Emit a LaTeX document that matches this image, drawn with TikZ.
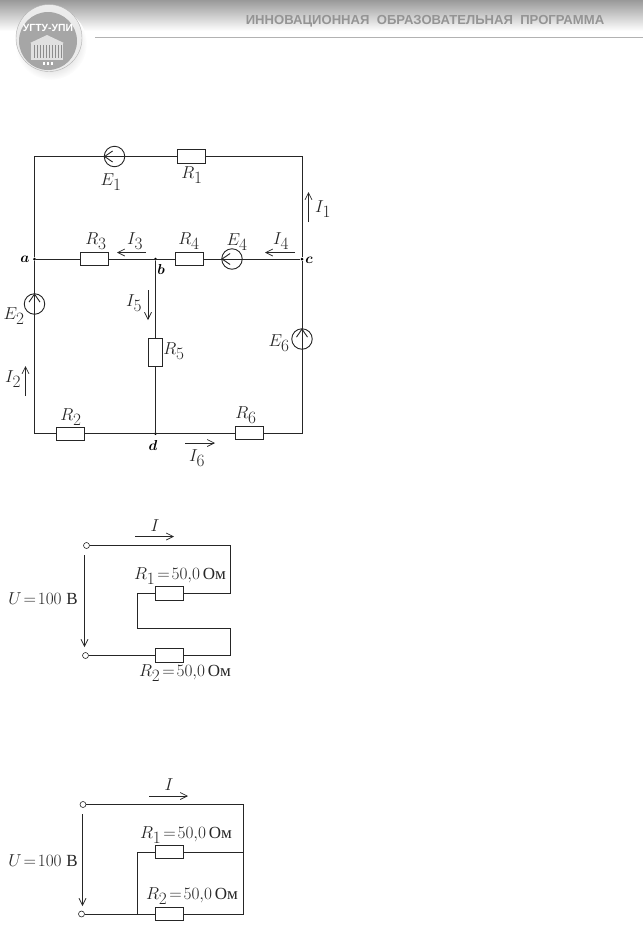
\documentclass[tikz,border=0pt]{standalone}
\usepackage{amsmath, amssymb}
\usepackage{fontspec}
\newfontfamily\headfont{Liberation Sans}
\newfontfamily\ohmfont{Liberation Serif}
\usetikzlibrary{arrows.meta}

\tikzset{
	>={Straight Barb[length=7pt,width=7pt]},
	wire/.style = {draw=black!85, line width=0.9pt},
	res/.style = {draw=black!85, fill=white, line width=0.9pt, minimum width=28pt, minimum height=13.5pt, inner sep=0pt, outer sep=0pt},
	resv/.style = {res, minimum width=13.5pt, minimum height=28pt},
	src/.style = {draw=black!85, circle, line width=0.9pt, minimum size=20.5pt, inner sep=0pt},
	srcarrow/.style = {wire, -{Straight Barb[length=8pt,width=11pt]}},
	term/.style = {draw=black!85, fill=white, circle, line width=0.6pt, minimum size=6pt, inner sep=0pt},
	dot/.style = {fill=black, circle, minimum size=3pt, inner sep=0pt},
	lab/.style = {font=\fontsize{17}{17}\selectfont, inner sep=0pt, text=black!85},
	nam/.style = {font=\fontsize{14}{14}\selectfont, inner sep=0pt},
	cur/.style = {->, draw=black!85, line width=0.7pt},
}
\newcommand{\Ohm}{\,{\ohmfont Ом}}
\newcommand{\tighteq}{\mkern2mu{=}\mkern2mu}
\newcommand{\bigsub}[2]{#1_{\textstyle #2}}

\begin{document}
\begin{tikzpicture}[x=1pt,y=-1pt]
	\useasboundingbox (0,0) rectangle (643,930);
	
	% header
	\shade [top color=black!40, bottom color=white] (0,0) rectangle (643,31);
	\node [font=\headfont\bfseries\fontsize{13.1}{13.1}\selectfont, text=black!42, inner sep=0pt] (title) at (425,21) {ИННОВАЦИОННАЯ\ \ ОБРАЗОВАТЕЛЬНАЯ\ \ ПРОГРАММА};
	\draw [black!30, line width=1.5pt] (95,37.5) -- (643,37.5);
	
	% logo
	\shade [inner color=black!35, outer color=white] (51,44) ellipse [x radius=36, y radius=36];
	\fill [black!8] (49,38) ellipse [x radius=33, y radius=33.5];
	\draw [black!30] (49,38) ellipse [x radius=33, y radius=33.5];
	\fill [black!35] (48,41) ellipse [x radius=29, y radius=29];
	\node [font=\headfont\bfseries\fontsize{10.4}{10.4}\selectfont, text=white, inner sep=0pt] (logotext) at (48,28) {УГТУ-УПИ};
	\fill [black!12] (30,43) -- (47,35) -- (64,43) -- cycle;
	\fill [black!12] (31,43) rectangle (63,60);
	\foreach \x in {34,37,...,61}
		\draw [black!45, line width=0.9pt] (\x,45) -- (\x,58);
	\foreach \x in {43,47,51}
		\fill [white] (\x,62) rectangle ++(2,3);
	
	% first circuit
	\coordinate (tl) at (34.5,156.5);
	\coordinate (tr) at (302,156.5);
	\coordinate (bl) at (34.5,433.5);
	\coordinate (br) at (302,433.5);
	\node [dot] (a) at (34.5,259) {};
	\node [dot] (b) at (155.5,259) {};
	\node [dot] (c) at (302,259) {};
	\node [dot] (d) at (155.5,433.5) {};
	
	\draw [wire] (a) -- (tl) -- (tr) -- (c) -- (br) -- (bl) -- (a);
	\draw [wire] (a) -- (c);
	\draw [wire] (b) -- (d);
	
	\node [src] (E1) at (114.5,156.5) {};
	\node [src] (E2) at (34.5,304) {};
	\node [src] (E4) at (232,259) {};
	\node [src] (E6) at (302,339) {};
	\draw [srcarrow] (E1.center) -- (E1.west);
	\draw [srcarrow] (E2.center) -- (E2.north);
	\draw [srcarrow] (E4.center) -- (E4.west);
	\draw [srcarrow] (E6.center) -- (E6.north);
	
	\node [res] (R1) at (191,156.5) {};
	\node [res] (R3) at (94,259) {};
	\node [res] (R4) at (189,259) {};
	\node [resv] (R5) at (155.5,352) {};
	\node [res] (R2) at (70,434) {};
	\node [res] (R6) at (249,433) {};
	
	\node [lab] (lE1) at (111,182) {$\bigsub{E}{1}$};
	\node [lab] (lR1) at (192,175) {$\bigsub{R}{1}$};
	\node [lab] (lR3) at (96,241) {$\bigsub{R}{3}$};
	\node [lab] (lR4) at (189,241) {$\bigsub{R}{4}$};
	\node [lab] (lE4) at (237,242) {$\bigsub{E}{4}$};
	\node [lab] (lE2) at (14,316) {$\bigsub{E}{2}$};
	\node [lab] (lE6) at (279,343) {$\bigsub{E}{6}$};
	\node [lab] (lR5) at (174,351) {$\bigsub{R}{5}$};
	\node [lab] (lR2) at (71,417) {$\bigsub{R}{2}$};
	\node [lab] (lR6) at (246,415) {$\bigsub{R}{6}$};
	\node [lab] (lI1) at (323,209) {$\bigsub{I}{1}$};
	\node [lab] (lI2) at (13,379) {$\bigsub{I}{2}$};
	\node [lab] (lI3) at (135,241) {$\bigsub{I}{3}$};
	\node [lab] (lI4) at (281,241) {$\bigsub{I}{4}$};
	\node [lab] (lI5) at (134,303) {$\bigsub{I}{5}$};
	\node [lab] (lI6) at (197,458) {$\bigsub{I}{6}$};
	\node [nam] (la) at (25,259) {$\boldsymbol{a}$};
	\node [nam] (lb) at (161,269) {$\boldsymbol{b}$};
	\node [nam] (lc) at (309,260) {$\boldsymbol{c}$};
	\node [nam] (ld) at (153,445) {$\boldsymbol{d}$};
	
	\coordinate (i1s) at (308.5,222); \coordinate (i1e) at (308.5,192);
	\coordinate (i2s) at (25.5,396); \coordinate (i2e) at (25.5,366);
	\coordinate (i3s) at (146,252.5); \coordinate (i3e) at (117,252.5);
	\coordinate (i4s) at (295,252.5); \coordinate (i4e) at (265,252.5);
	\coordinate (i5s) at (148,290); \coordinate (i5e) at (148,320);
	\coordinate (i6s) at (185,443); \coordinate (i6e) at (215,443);
	\foreach \n in {1,...,6}
		\draw [cur] (i\n s) -- (i\n e);
	
	% second circuit
	\node [term] (T1) at (86.5,545.5) {};
	\node [term] (T2) at (85.5,655.5) {};
	\node [res] (R1s) at (169,593.5) {};
	\node [res] (R2s) at (169,655.5) {};
	\coordinate (s1) at (230,545.5);
	\coordinate (s2) at (230,593.5);
	\coordinate (s3) at (137.5,593.5);
	\coordinate (s4) at (137.5,628.5);
	\coordinate (s5) at (230,628.5);
	\coordinate (s6) at (230,655.5);
	\draw [wire] (T1) -- (s1) -- (s2) -- (R1s.east);
	\draw [wire] (R1s.west) -- (s3) -- (s4) -- (s5) -- (s6) -- (R2s.east);
	\draw [wire] (R2s.west) -- (T2);
	\coordinate (us) at (84.5,555); \coordinate (ue) at (84.5,647);
	\coordinate (is) at (135,536.5); \coordinate (ie) at (174,536.5);
	\draw [cur] (us) -- (ue);
	\draw [cur] (is) -- (ie);
	\node [lab] (lI) at (155,526) {$I$};
	\node [lab] (lU) at (43,599) {$U\tighteq100$\;{\ohmfont В}};
	\node [lab] (lR1s) at (180,576) {$\bigsub{R}{1}\tighteq50{,}0$\Ohm};
	\node [lab] (lR2s) at (185,673) {$\bigsub{R}{2}\tighteq50{,}0$\Ohm};
	
	% third circuit
	\node [term] (T3) at (83,804.5) {};
	\node [term] (T4) at (81.5,914) {};
	\node [res] (R1p) at (169,852) {};
	\node [res] (R2p) at (169,914) {};
	\coordinate (p1) at (243.5,804.5);
	\coordinate (p2) at (243.5,852);
	\coordinate (p3) at (243.5,914);
	\coordinate (p4) at (137,852);
	\coordinate (p5) at (137,914);
	\draw [wire] (T3) -- (p1) -- (p2) -- (p3) -- (R2p.east);
	\draw [wire] (p2) -- (R1p.east);
	\draw [wire] (R1p.west) -- (p4) -- (p5);
	\draw [wire] (R2p.west) -- (T4);
	\coordinate (ups) at (82.5,814); \coordinate (upe) at (82.5,906);
	\coordinate (ips) at (149,796); \coordinate (ipe) at (188,796);
	\draw [cur] (ups) -- (upe);
	\draw [cur] (ips) -- (ipe);
	\node [lab] (lIp) at (169,785) {$I$};
	\node [lab] (lUp) at (43,861) {$U\tighteq100$\;{\ohmfont В}};
	\node [lab] (lR1p) at (186,835) {$\bigsub{R}{1}\tighteq50{,}0$\Ohm};
	\node [lab] (lR2p) at (192,896) {$\bigsub{R}{2}\tighteq50{,}0$\Ohm};
\end{tikzpicture}
\end{document}
